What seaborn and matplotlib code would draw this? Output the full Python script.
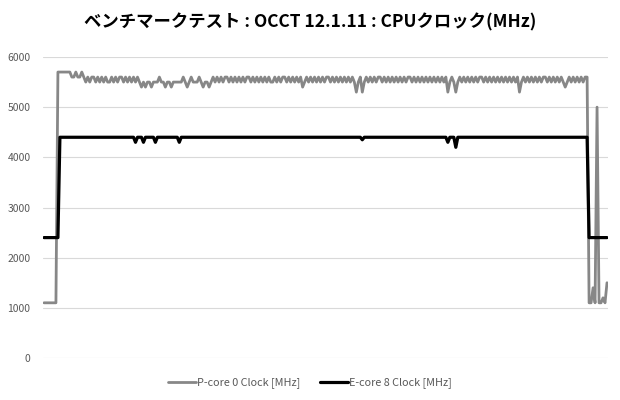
import matplotlib
matplotlib.use("Agg")
import matplotlib.pyplot as plt
import seaborn as sns
import numpy as np
import pandas as pd

# P-core 0 clock (MHz), one value per sample
p_core = [
    1100, 1100, 1100, 1100, 1100, 1100, 1100,
    5700, 5700, 5700, 5700, 5700, 5700, 5700,
    5600, 5600, 5700, 5600, 5600, 5700, 5600,
    5500, 5600, 5500, 5600, 5600, 5500, 5600, 5500, 5600, 5500,
    5600, 5500, 5500, 5600, 5500, 5600, 5500, 5600, 5600, 5500,
    5600, 5500, 5600, 5500, 5600, 5500, 5600, 5500,
    5400, 5500, 5400, 5500, 5500, 5400, 5500, 5500, 5500, 5600,
    5500, 5500, 5400, 5500, 5500, 5400, 5500, 5500, 5500, 5500,
    5500, 5600, 5500, 5400, 5500, 5600, 5500, 5500, 5500, 5600,
    5500, 5400, 5500, 5500, 5400, 5500, 5600,
    5500, 5600, 5500, 5600, 5500, 5600, 5600, 5500, 5600, 5500,
    5600, 5500, 5600, 5500, 5600, 5500, 5600, 5600, 5500, 5600,
    5500, 5600, 5500, 5600, 5500, 5600, 5500, 5600, 5500, 5500,
    5600, 5500, 5600, 5500, 5600, 5600, 5500, 5600, 5500, 5600,
    5500, 5600, 5500, 5600, 5400, 5500, 5600, 5500, 5600, 5500,
    5600, 5500, 5600, 5500, 5600, 5500, 5600, 5600, 5500, 5600,
    5500, 5600, 5500, 5600, 5500, 5600, 5500, 5600, 5500, 5600,
    5500, 5300, 5500, 5600, 5300, 5500, 5600, 5500, 5600, 5500,
    5600, 5500, 5600, 5600, 5500, 5600, 5500, 5600, 5500, 5600,
    5500, 5600, 5500, 5600, 5500, 5600, 5500, 5600, 5600, 5500,
    5600, 5500, 5600, 5500, 5600, 5500, 5600, 5500, 5600, 5500,
    5600, 5500, 5600, 5500, 5600, 5500, 5600, 5300, 5500, 5600,
    5500, 5300, 5500, 5600, 5500, 5600, 5500, 5600, 5500, 5600,
    5500, 5600, 5500, 5600, 5600, 5500, 5600, 5500, 5600, 5500,
    5600, 5500, 5600, 5500, 5600, 5500, 5600, 5500, 5600, 5500,
    5600, 5500, 5600, 5300, 5500, 5600, 5500, 5600, 5500, 5600,
    5500, 5600, 5500, 5600, 5500, 5600, 5600, 5500, 5600, 5500,
    5600, 5500, 5600, 5500, 5600, 5500, 5400, 5500, 5600, 5500,
    5600, 5500, 5600, 5500, 5600, 5500, 5600, 5600,
    1100, 1100, 1400, 1100, 5000, 1100, 1100, 1200, 1100, 1500,
]

# E-core 8 clock (MHz)
e_core = [
    2400, 2400, 2400, 2400, 2400, 2400, 2400, 2400, 4400, 4400,
    4400, 4400, 4400, 4400, 4400, 4400, 4400, 4400, 4400, 4400,
    4400, 4400, 4400, 4400, 4400, 4400, 4400, 4400, 4400, 4400,
    4400, 4400, 4400, 4400, 4400, 4400, 4400, 4400, 4400, 4400,
    4400, 4400, 4400, 4400, 4400, 4400, 4300, 4400, 4400, 4400,
    4300, 4400, 4400, 4400, 4400, 4400, 4300, 4400, 4400, 4400,
    4400, 4400, 4400, 4400, 4400, 4400, 4400, 4400, 4300, 4400,
    4400, 4400, 4400, 4400, 4400, 4400, 4400, 4400, 4400, 4400,
    4400, 4400, 4400, 4400, 4400, 4400, 4400, 4400, 4400, 4400,
    4400, 4400, 4400, 4400, 4400, 4400, 4400, 4400, 4400, 4400,
    4400, 4400, 4400, 4400, 4400, 4400, 4400, 4400, 4400, 4400,
    4400, 4400, 4400, 4400, 4400, 4400, 4400, 4400, 4400, 4400,
    4400, 4400, 4400, 4400, 4400, 4400, 4400, 4400, 4400, 4400,
    4400, 4400, 4400, 4400, 4400, 4400, 4400, 4400, 4400, 4400,
    4400, 4400, 4400, 4400, 4400, 4400, 4400, 4400, 4400, 4400,
    4400, 4400, 4400, 4400, 4400, 4400, 4400, 4400, 4400, 4400,
    4350, 4400, 4400, 4400, 4400, 4400, 4400, 4400, 4400, 4400,
    4400, 4400, 4400, 4400, 4400, 4400, 4400, 4400, 4400, 4400,
    4400, 4400, 4400, 4400, 4400, 4400, 4400, 4400, 4400, 4400,
    4400, 4400, 4400, 4400, 4400, 4400, 4400, 4400, 4400, 4400,
    4400, 4400, 4400, 4300, 4400, 4400, 4400, 4200, 4400, 4400,
    4400, 4400, 4400, 4400, 4400, 4400, 4400, 4400, 4400, 4400,
    4400, 4400, 4400, 4400, 4400, 4400, 4400, 4400, 4400, 4400,
    4400, 4400, 4400, 4400, 4400, 4400, 4400, 4400, 4400, 4400,
    4400, 4400, 4400, 4400, 4400, 4400, 4400, 4400, 4400, 4400,
    4400, 4400, 4400, 4400, 4400, 4400, 4400, 4400, 4400, 4400,
    4400, 4400, 4400, 4400, 4400, 4400, 4400, 4400, 4400, 4400,
    4400, 4400, 4400, 4400, 2400, 2400, 2400, 2400, 2400, 2400,
    2400, 2400, 2400, 2400,
]

series_names = ["P-core 0 Clock [MHz]", "E-core 8 Clock [MHz]"]
series_colors = ["#878787", "#000000"]
line_widths = [2.0, 2.3]
y_ticks = [0, 1000, 2000, 3000, 4000, 5000, 6000]
title = "ベンチマークテスト : OCCT 12.1.11 : CPUクロック(MHz)"

n = len(p_core)
df = pd.DataFrame({
    "sample": list(range(n)) * 2,
    "clock": p_core + e_core,
    "series": [series_names[0]] * n + [series_names[1]] * len(e_core),
})

sns.set_theme(style="whitegrid")
plt.rcParams["font.family"] = ["Noto Sans CJK JP", "DejaVu Sans"]

fig = plt.figure(figsize=(6.2, 4.0), dpi=100)
ax = fig.add_axes([43 / 620, 42 / 400, 565 / 620, 301 / 400])

sns.lineplot(data=df, x="sample", y="clock", hue="series",
             palette=dict(zip(series_names, series_colors)),
             ax=ax, legend=False, estimator=None)
for line, lw in zip(ax.get_lines(), line_widths):
    line.set_linewidth(lw)

ax.set_xlim(-0.5, n - 0.5)
ax.set_ylim(0, 6000)
ax.set_yticks(y_ticks)
ax.set_yticklabels([str(v) for v in y_ticks], fontsize=7.5, color="#595959")
ax.set_xticks([])
ax.set_xlabel("")
ax.set_ylabel("")
ax.grid(axis="y", color="#d9d9d9", linewidth=0.8)
ax.grid(axis="x", visible=False)
ax.tick_params(axis="y", length=0, pad=9)
for s in ax.spines.values():
    s.set_visible(False)

fig.text(0.5, 1 - 22 / 400, title, ha="center", va="center",
         fontsize=12.5, fontweight="bold", color="#000000")

handles = [plt.Line2D([], [], color=c, linewidth=lw)
           for c, lw in zip(series_colors, line_widths)]
fig.legend(handles, series_names, loc="center", bbox_to_anchor=(0.5, 1 - 383 / 400),
           ncol=2, frameon=False, fontsize=7.8, handlelength=2.6,
           handletextpad=0.1, columnspacing=1.8, labelcolor="#595959")

fig.savefig("out.png", dpi=100, facecolor="white")
